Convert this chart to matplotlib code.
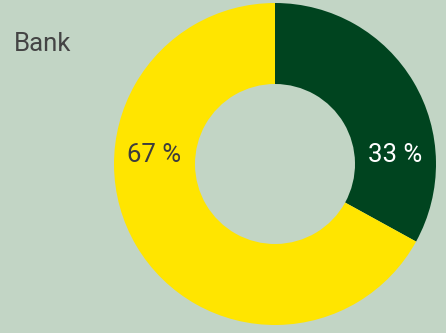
import matplotlib
matplotlib.use("Agg")
import matplotlib.pyplot as plt

# data
categories = ["Bank", "Other"]
values = [33, 67]
label_texts = ["33 %", "67 %"]
title = "Bank"

slice_colors = ["#00441f", "#ffe500"]
label_colors = ["#ffffff", "#3d3d3d"]
bg = "#c2d5c5"

W, H = 446, 333
fig = plt.figure(figsize=(W / 100, H / 100), dpi=100, facecolor=bg)
ax = fig.add_axes([0, 0, 1, 1])
ax.set_facecolor(bg)

cx, cy = 275, H - 164
r_out, r_in = 161, 80
ax.pie(values, colors=slice_colors, startangle=90, counterclock=False,
       center=(cx, cy), radius=r_out, frame=True,
       wedgeprops=dict(width=r_out - r_in, linewidth=0))
ax.set_xlim(0, W)
ax.set_ylim(0, H)
ax.set_aspect("equal")
ax.axis("off")

mid = (r_out + r_in) / 2
for i, txt in enumerate(label_texts):
    side = 1 if i == 0 else -1
    ax.text(cx + side * mid, cy + 9, txt, color=label_colors[i],
            fontsize=18.5, fontfamily="Roboto", fontweight="normal",
            ha="center", va="center")

fig.text(14 / W, 1 - 44 / H, title, fontsize=18.5, fontfamily="Roboto",
         fontweight="normal", color="#444444", ha="left", va="center")

fig.savefig("out.png", dpi=100, facecolor=bg)
